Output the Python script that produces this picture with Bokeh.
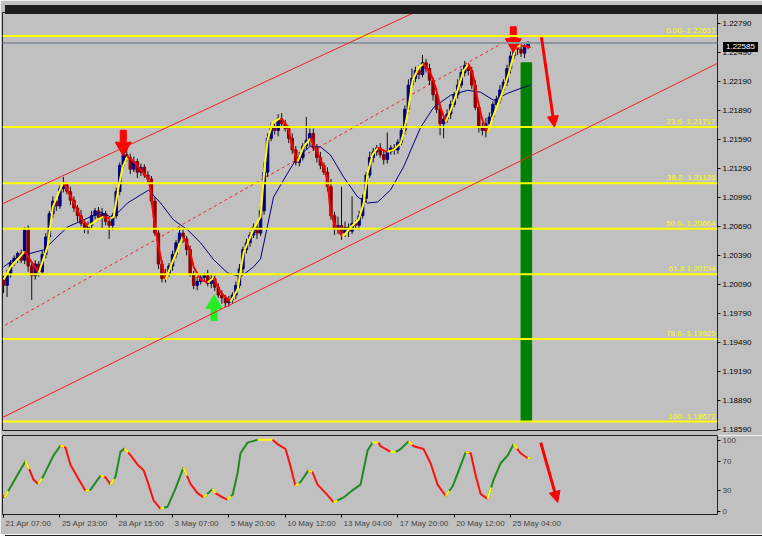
import numpy as np
from bokeh.plotting import figure
from bokeh.layouts import column
from bokeh.models import (Range1d, FixedTicker, PrintfTickFormatter, Span, Div,
                          Arrow, NormalHead, Slope, LinearAxis, CustomLabelingPolicy)
from bokeh.embed import file_html
from bokeh.resources import INLINE
from bokeh.core.properties import value

# ---------------- data (EURUSD H4) ----------------
first_open = 1.2015
closes = [1.2008, 1.2020, 1.2031, 1.2036, 1.2041, 1.2034, 1.2065, 1.2028, 1.2018, 1.2030,
          1.2022, 1.2040, 1.2058, 1.2082, 1.2095, 1.2090, 1.2108, 1.2112,
          1.2105, 1.2096, 1.2088, 1.2080, 1.2072, 1.2066, 1.2070, 1.2080, 1.2085, 1.2078,
          1.2082, 1.2074, 1.2070, 1.2080,
          1.2105, 1.2132, 1.2143, 1.2140, 1.2128, 1.2136, 1.2125, 1.2130, 1.2122, 1.2118,
          1.2095, 1.2062, 1.2030, 1.2015, 1.2020,
          1.2028, 1.2040, 1.2052, 1.2062, 1.2056,
          1.2045, 1.2020, 1.2008, 1.2012, 1.2016,
          1.2018, 1.2010, 1.2015, 1.2006, 1.1998, 1.1995, 1.1990, 1.1993, 1.1998, 1.2008,
          1.2025, 1.2045, 1.2052, 1.2060, 1.2068, 1.2062, 1.2085,
          1.2125, 1.2160, 1.2172, 1.2168, 1.2180, 1.2175, 1.2170,
          1.2160, 1.2148, 1.2135, 1.2140, 1.2152, 1.2158, 1.2165, 1.2150, 1.2140, 1.2132,
          1.2125, 1.2110,
          1.2080, 1.2066, 1.2070, 1.2062, 1.2068, 1.2064, 1.2072, 1.2070, 1.2080,
          1.2098, 1.2122, 1.2140, 1.2146, 1.2150, 1.2143, 1.2138, 1.2146, 1.2150, 1.2148,
          1.2156,
          1.2168, 1.2190, 1.2215, 1.2222, 1.2230, 1.2226, 1.2238,
          1.2232, 1.2220, 1.2205, 1.2190, 1.2175, 1.2180, 1.2185,
          1.2195, 1.2205, 1.2215, 1.2228, 1.2235, 1.2230,
          1.2215, 1.2192, 1.2172, 1.2168, 1.2175,
          1.2182, 1.2195, 1.2200, 1.2210, 1.2218, 1.2232, 1.2245, 1.2260, 1.2252, 1.2248,
          1.2255, 1.22585]
# wick lengths above / below the body, in pips (0.0001)
wick_up = [3, 4, 3, 3, 2, 4, 3, 5, 3, 4, 3, 4, 4, 3, 5, 4, 3, 8, 3, 5,
           4, 3, 6, 3, 4, 5, 3, 4, 6, 3, 4, 3, 4, 3, 3, 7, 4, 5, 3, 4,
           3, 4, 3, 4, 3, 4, 5, 3, 4, 3, 6, 5, 3, 4, 3, 5, 4, 3, 6, 4,
           3, 4, 5, 3, 4, 3, 4, 5, 3, 4, 3, 4, 5, 4, 10, 5, 4, 3, 5, 6,
           4, 3, 5, 4, 6, 3, 24, 5, 5, 4, 6, 3, 5, 8, 4, 9, 40, 6, 4, 28,
           3, 5, 4, 3, 6, 4, 3, 5, 4, 20, 3, 4, 3, 5, 4, 6, 10, 4, 5, 8,
           4, 5, 3, 6, 4, 3, 5, 4, 3, 6, 4, 5, 3, 4, 5, 3, 4, 6, 5, 3,
           4, 5, 3, 4, 5, 6, 4, 5, 3, 2]
wick_dn = [8, 12, 4, 3, 5, 3, 4, 6, 25, 4, 5, 3, 4, 3, 4, 5, 3, 4, 3, 5,
           4, 6, 3, 4, 5, 3, 4, 3, 12, 4, 14, 5, 3, 4, 3, 4, 5, 3, 6, 4,
           3, 5, 4, 3, 5, 4, 4, 3, 5, 4, 3, 4, 6, 3, 4, 5, 3, 4, 3, 5,
           4, 3, 6, 5, 4, 3, 4, 3, 5, 4, 4, 3, 6, 3, 4, 5, 3, 4, 6, 4,
           3, 5, 4, 3, 4, 3, 4, 6, 3, 5, 4, 3, 5, 4, 6, 5, 7, 4, 6, 3,
           4, 5, 3, 4, 3, 5, 4, 3, 5, 4, 3, 5, 4, 3, 4, 5, 3, 4, 5, 3,
           4, 5, 6, 4, 12, 15, 4, 5, 3, 4, 3, 4, 5, 4, 3, 6, 5, 7, 4, 3,
           5, 4, 3, 4, 5, 3, 6, 4, 5, 3]

# fast smoothed line (vertices: bar index, price)
smooth_bar = [0, 2, 6, 10, 12.5, 14, 17, 19.6, 22, 24, 26.7, 28.4, 30.4, 31.3, 32.7, 33.8,
              35.2, 37, 39, 41, 41.8, 42.6, 44, 46, 48.3, 50.9, 52.6, 54, 56, 58, 59.7,
              61.6, 64.5, 66.5, 68.2, 71, 73, 74, 75, 76.4, 78.7, 80.7, 82.1, 83.5, 85.2,
              87.2, 89.2, 91, 92, 92.9, 94.3, 96.3, 98.6, 100.9, 102.3, 103.4, 104.8,
              106.3, 109, 110.8, 112.8, 113.6, 114.8, 116.2, 117.9, 119.3, 121.3, 122.7,
              124.1, 125.6, 127, 129, 130.7, 132.1, 133.5, 134.7, 136, 137.5, 139.2,
              141.8, 143.5, 145.5, 146.9, 149.7]
smooth_price = [1.2014, 1.2027, 1.2043, 1.2021, 1.2048, 1.2089, 1.2115, 1.2096, 1.2078,
                1.2069, 1.2076, 1.2079, 1.2077, 1.2079, 1.2110, 1.2130, 1.2141, 1.2136,
                1.2127, 1.2119, 1.2107, 1.2079, 1.2048, 1.2014, 1.2035, 1.2058, 1.2048,
                1.2027, 1.2014, 1.2011, 1.2016, 1.2001, 1.1991, 1.2004, 1.2042, 1.2066,
                1.2079, 1.2124, 1.2158, 1.2176, 1.2181, 1.2172, 1.2151, 1.2136, 1.2151,
                1.2160, 1.2145, 1.2130, 1.2117, 1.2083, 1.2069, 1.2058, 1.2068, 1.2076,
                1.2093, 1.2124, 1.2143, 1.2150, 1.2146, 1.2148, 1.2155, 1.2165, 1.2186,
                1.2220, 1.2233, 1.2237, 1.2227, 1.2213, 1.2192, 1.2177, 1.2189, 1.2210,
                1.2230, 1.2237, 1.2223, 1.2199, 1.2179, 1.2166, 1.2184, 1.2208, 1.2227,
                1.2254, 1.2256, 1.2254]

# slow moving average (navy)
ma_bar = [0, 4.0, 11.4, 18.2, 22.7, 27.6, 30.4, 32.4, 35.2, 38.9, 41.2, 44.6, 48.3, 52.3,
          56.0, 59.7, 63.6, 67.3, 71.0, 73.0, 76.7, 80.7, 83.5, 87.2, 90.1, 92.9, 96.6,
          100.6, 103.4, 106.3, 109.9, 113.6, 118.5, 122.2, 127.0, 131.8, 135.5, 139.2,
          143.2, 147.7, 149.7]
ma_price = [1.20271, 1.20375, 1.20447, 1.20684, 1.20756, 1.20838, 1.20787, 1.20828,
            1.20931, 1.21014, 1.21065, 1.20931, 1.20756, 1.20653, 1.20519, 1.20344,
            1.20210, 1.20168, 1.20271, 1.20354, 1.20993, 1.21241, 1.21406, 1.21519,
            1.21509, 1.21426, 1.21199, 1.20993, 1.20931, 1.20942, 1.21065, 1.21302,
            1.21715, 1.21921, 1.22045, 1.22096, 1.22076, 1.21993, 1.22065, 1.22127,
            1.22148]

# oscillator (0-100)
osc_bar = [-0.8, 0.3, 3.9, 4.8, 6.25, 7.7, 8.5, 9.9, 11.4, 14.2, 16.2, 17.6, 19.0, 21.3,
           23.3, 24.7, 27.6, 29.0, 30.4, 31.8, 33.2, 34.4, 36.1, 38.1, 39.8, 41.2, 42.6,
           44.6, 46.6, 48.9, 51.1, 53.1, 55.1, 56.8, 59.4, 60.2, 62.2, 63.6, 65.1, 66.5,
           67.3, 69.3, 72.2, 76.4, 77.8, 80.1, 81.5, 82.9, 84.4, 86.6, 87.8, 89.2, 91.5,
           93.8, 96.6, 99.4, 101.4, 103.4, 104.8, 106.5, 107.1, 109.9, 111.4, 112.8,
           115.1, 116.5, 119.3, 121.3, 123.3, 125.6, 127.6, 131.3, 132.7, 134.1, 135.5,
           137.5, 139.2, 141.2, 143.2, 144.9, 146.9, 148.9, 149.7]
osc_value = [25, 20, 51, 59, 71, 55, 45, 39, 51, 79, 93, 90, 66, 46, 29, 31, 51, 48, 38,
             49, 84, 89, 79, 66, 58, 38, 16, 4, 7, 33, 62, 39, 26, 20, 32, 26, 20, 17, 24,
             55, 82, 97, 101, 101, 95, 88, 64, 36, 42, 58, 55, 38, 26, 13, 20, 31, 38, 86,
             97, 97, 92, 84, 84, 88, 99, 92, 88, 68, 38, 22, 36, 84, 82, 51, 25, 18, 45, 68,
             79, 95, 82, 75, 76]

# Fibonacci retracement
fib_levels = [1.22657, 1.21717, 1.21135, 1.20664, 1.20194, 1.19525, 1.18672]
fib_labels = ["0.00- 1.22657", "23.6- 1.21717", "38.2- 1.21135", "50.0- 1.20664",
              "61.8 1.20194", "78.6- 1.19525", "100- 1.18672"]
fib_bar_left, fib_bar_right = [147.0], [150.0]
fib_bar_top = [1.2238]

# trend lines (anchor bar, anchor price)
upper_bar, upper_price = [0, 100], [1.20928, 1.22618]
lower_bar, lower_price = [0, 150], [1.18720, 1.21423]
mid_bar, mid_price = [-1, 145], [1.19640, 1.22652]

# signal arrows (tip positions)
sig_down_bar, sig_down_price = [34.0, 144.8], [1.2145, 1.2252]
sig_up_bar, sig_up_price = [59.8], [1.1995]

# drawn arrows
arrow_main_bar, arrow_main_price = [152.8, 156.5], [1.22643, 1.21715]
arrow_osc_bar, arrow_osc_value = [152.6, 157.4], [97, 13]

last_price = 1.22585
last_price_text = "1.22585"
price_ticks = [1.18590, 1.18890, 1.19190, 1.19490, 1.19790, 1.20090, 1.20390, 1.20690,
               1.20990, 1.21290, 1.21590, 1.21890, 1.22190, 1.22490, 1.22790]
osc_ticks = [0, 30, 70, 100]
time_ticks = [0, 16, 32, 48, 64, 80, 96, 112, 128, 144]
time_labels = ["21 Apr 07:00", "25 Apr 23:00", "28 Apr 15:00", "3 May 07:00",
               "5 May 20:00", "10 May 12:00", "13 May 04:00", "17 May 20:00",
               "20 May 12:00", "25 May 04:00"]

# ---------------- derived ----------------
bars = np.arange(len(closes))
opens = np.array([first_open] + closes[:-1])
cl = np.array(closes)
highs = np.maximum(opens, cl) + np.array(wick_up) * 1e-4
lows = np.minimum(opens, cl) - np.array(wick_dn) * 1e-4
bull = cl >= opens

W = 762
X0, X1 = -0.3, 202.8
PY0, PY1 = 1.18580, 1.22900
FONT = "Liberation Sans"
BG = "#c0c0c0"
MAIN_H, MAIN_TOP, MAIN_BOT = 435, 12, 5
LEFT, RIGHT = 2, 45
px = (PY1 - PY0) / (MAIN_H - MAIN_TOP - MAIN_BOT)   # price per pixel
px_per_bar = (W - LEFT - RIGHT) / (X1 - X0)

main = figure(width=W, height=MAIN_H, x_range=Range1d(X0, X1),
              y_range=Range1d(PY0, PY1), output_backend="svg", toolbar_location=None,
              background_fill_color=BG, border_fill_color=BG,
              min_border_left=LEFT, min_border_top=MAIN_TOP, min_border_bottom=MAIN_BOT,
              min_border_right=RIGHT, x_axis_location=None, y_axis_location="right")
main.grid.visible = False
main.outline_line_color = "#202020"

# fib lines
for lv in fib_levels:
    main.add_layout(Span(location=lv, dimension="width", line_color="#ffff00",
                         line_width=2))
main.text(x=[X1] * len(fib_levels), y=fib_levels, text=fib_labels, text_align="right",
          text_baseline="bottom", x_offset=-2, y_offset=-1, text_font=value(FONT),
          text_font_size="8px", text_color="#ffff00")

# current price line
main.add_layout(Span(location=last_price, dimension="width", line_color="#8e979f",
                     line_width=2))

# fib green bar
main.quad(left=fib_bar_left, right=fib_bar_right, bottom=[fib_levels[-1]],
          top=fib_bar_top, fill_color="#008000", line_color="#008000")

# trend lines
g_up = (upper_price[1] - upper_price[0]) / (upper_bar[1] - upper_bar[0])
main.add_layout(Slope(gradient=g_up, y_intercept=upper_price[0] - g_up * upper_bar[0],
                      line_color="#ee2020", line_width=1))
g_lo = (lower_price[1] - lower_price[0]) / (lower_bar[1] - lower_bar[0])
main.add_layout(Slope(gradient=g_lo, y_intercept=lower_price[0] - g_lo * lower_bar[0],
                      line_color="#ee2020", line_width=1))
main.line(mid_bar, mid_price, line_color="#ee2020", line_width=1, line_dash="3 3")

# candles
main.segment(bars, highs, bars, lows, line_color="#101010", line_width=1)
main.vbar(x=bars[bull], width=0.7, bottom=opens[bull], top=cl[bull],
          fill_color="#000088", line_color="#000088", line_width=1)
main.vbar(x=bars[~bull], width=0.7, bottom=cl[~bull], top=opens[~bull],
          fill_color="#8b0000", line_color="#8b0000", line_width=1)

# moving average
main.line(ma_bar, ma_price, line_color="#000080", line_width=1)


def runs(xs, ys, up_color, down_color, flat_color):
    """split a polyline into runs of rising / falling segments."""
    out_x, out_y, out_c = [], [], []
    cur_x, cur_y, cur_c = [xs[0]], [ys[0]], None
    for i in range(1, len(xs)):
        d = ys[i] - ys[i - 1]
        c = up_color if d > 0 else (down_color if d < 0 else flat_color)
        if cur_c is None or c == cur_c:
            cur_x.append(xs[i]); cur_y.append(ys[i]); cur_c = c
        else:
            out_x.append(cur_x); out_y.append(cur_y); out_c.append(cur_c)
            cur_x, cur_y, cur_c = [xs[i - 1], xs[i]], [ys[i - 1], ys[i]], c
    out_x.append(cur_x); out_y.append(cur_y); out_c.append(cur_c)
    return out_x, out_y, out_c


sx, sy, sc = runs(smooth_bar, smooth_price, "#ffff00", "#ff0000", "#ffff00")
main.multi_line(sx, sy, line_color=sc, line_width=2, line_join="round")

# signal arrows
hd = np.array(sig_down_price)
main.rect(x=sig_down_bar, y=hd + 17 * px, width=6, height=11, width_units="screen",
          height_units="screen", fill_color="#ff0000", line_color="#ff0000")
main.scatter(x=sig_down_bar, y=hd + 6 * px, marker="inverted_triangle", size=16,
             fill_color="#ff0000", line_color="#ff0000")
hu = np.array(sig_up_price)
main.rect(x=sig_up_bar, y=hu - 17 * px, width=6, height=11, width_units="screen",
          height_units="screen", fill_color="#22ee22", line_color="#22ee22")
main.scatter(x=sig_up_bar, y=hu - 6 * px, marker="triangle", size=16,
             fill_color="#22ee22", line_color="#22ee22")

main.add_layout(Arrow(end=NormalHead(size=11, fill_color="#ff0000", line_color="#ff0000"),
                      x_start=arrow_main_bar[0], y_start=arrow_main_price[0],
                      x_end=arrow_main_bar[1], y_end=arrow_main_price[1],
                      line_color="#ff0000", line_width=3))

# price axis
ya = main.yaxis[0]
ya.ticker = FixedTicker(ticks=price_ticks)
ya.formatter = PrintfTickFormatter(format="%.5f")
ya.axis_line_color = None
ya.major_tick_out = 3
ya.major_tick_in = 0
ya.minor_tick_line_color = None
ya.major_label_standoff = 2
ya.major_label_text_font = FONT
ya.major_label_text_font_size = "8px"
ya.major_label_text_color = "#000000"

# ---------------- oscillator panel ----------------
osc = figure(width=W, height=99, x_range=main.x_range, y_range=Range1d(-4, 107),
             output_backend="svg", toolbar_location=None,
             background_fill_color=BG, border_fill_color=BG,
             min_border_left=LEFT, min_border_top=0, min_border_right=RIGHT,
             min_border_bottom=20, y_axis_location="right")
osc.grid.visible = False
osc.outline_line_color = "#202020"

ox, oy, oc = runs(osc_bar, osc_value, "#1f8a1f", "#ff1010", "#ffff00")
osc.multi_line(ox, oy, line_color=oc, line_width=2, line_join="round")
# yellow marks at turning points
tx0, ty0, tx1, ty1 = [], [], [], []
for i in range(1, len(osc_bar) - 1):
    a, b, c = osc_value[i - 1], osc_value[i], osc_value[i + 1]
    if (b - a) * (c - b) < 0:
        f = min(1.0, 1.0 / (osc_bar[i + 1] - osc_bar[i]))
        tx0.append(osc_bar[i]); ty0.append(b)
        tx1.append(osc_bar[i] + f * (osc_bar[i + 1] - osc_bar[i]))
        ty1.append(b + f * (c - b))
osc.segment(tx0, ty0, tx1, ty1, line_color="#ffff00", line_width=2)

osc.add_layout(Arrow(end=NormalHead(size=11, fill_color="#ff0000", line_color="#ff0000"),
                     x_start=arrow_osc_bar[0], y_start=arrow_osc_value[0],
                     x_end=arrow_osc_bar[1], y_end=arrow_osc_value[1],
                     line_color="#ff0000", line_width=3))

oya = osc.yaxis[0]
oya.ticker = FixedTicker(ticks=osc_ticks)
oya.axis_line_color = None
oya.major_tick_out = 3
oya.major_tick_in = 0
oya.minor_tick_line_color = None
oya.major_label_standoff = 2
oya.major_label_text_font = FONT
oya.major_label_text_font_size = "8px"

# time axis: tick marks at the bars, labels start just right of each tick
CW = {"0": 4.45, "1": 4.45, "2": 4.45, "3": 4.45, "4": 4.45, "5": 4.45, "6": 4.45,
      "7": 4.45, "8": 4.45, "9": 4.45, " ": 2.22, ":": 2.22, "A": 5.34, "p": 4.45,
      "r": 2.66, "M": 6.66, "a": 4.45, "y": 4.0}
label_pos = [t + (2 + sum(CW.get(ch, 4.45) for ch in s) / 2) / px_per_bar
             for t, s in zip(time_ticks, time_labels)]

oxa = osc.xaxis[0]
oxa.ticker = FixedTicker(ticks=time_ticks)
oxa.axis_line_color = None
oxa.major_tick_out = 3
oxa.major_tick_in = 0
oxa.minor_tick_line_color = None
oxa.major_label_standoff = 0
oxa.major_label_text_font_size = "1px"
oxa.major_label_policy = CustomLabelingPolicy(code="return new Set()")

lab_axis = LinearAxis(ticker=FixedTicker(ticks=label_pos),
                      major_label_overrides={p: s for p, s in zip(label_pos, time_labels)},
                      axis_line_color=None, major_tick_line_color=None,
                      minor_tick_line_color=None, major_tick_out=0, major_tick_in=0,
                      major_label_standoff=-3, major_label_text_font=FONT,
                      major_label_text_font_size="8px")
osc.add_layout(lab_axis, "below")

# last-price tag on the price scale and the dark terminal surround
price_tag = Div(text=last_price_text,
                styles={"position": "absolute", "left": "718px", "top": "37px",
                        "background-color": "#000000", "color": "#ffffff",
                        "font-family": "'Liberation Sans'", "font-size": "8px",
                        "line-height": "10px", "padding": "0px 3px", "z-index": "10"})
top_band = Div(text="", styles={"position": "absolute", "left": "0px", "top": "0px",
                                "width": "762px", "height": "9px",
                                "background-color": "#1e1e1e", "z-index": "9"})
bottom_band = Div(text="", styles={"position": "absolute", "left": "0px", "top": "530px",
                                   "width": "762px", "height": "6px",
                                   "background-color": "#1e1e1e", "z-index": "9"})

layout = column(main, osc, price_tag, top_band, bottom_band, spacing=0)
open("out.html", "w").write(file_html(layout, INLINE))
